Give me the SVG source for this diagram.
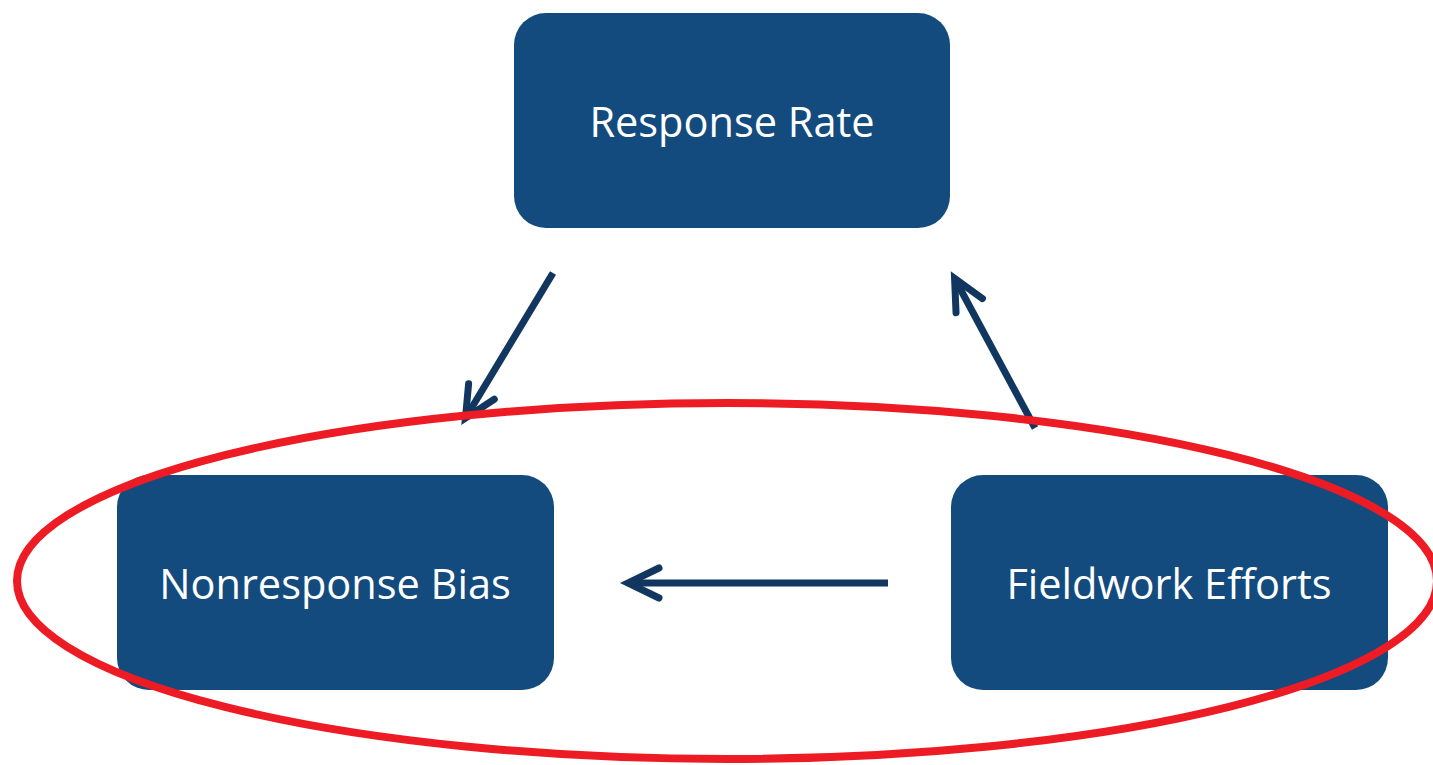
<svg xmlns="http://www.w3.org/2000/svg" width="1433" height="765" viewBox="0 0 1433 765">
<style>
.box{fill:#134B7E}
.lbl{fill:#FFFFFF;font-family:"Open Sans","Noto Sans",sans-serif;font-size:41.5px;text-anchor:middle}
.conn{stroke:#11365F;stroke-width:7;fill:none}
</style>
<defs>
<marker id="chev" markerUnits="userSpaceOnUse" viewBox="-40 -22 46 44" refX="-3" refY="0" markerWidth="46" markerHeight="44" orient="auto" overflow="visible">
<path d="M -31 -15 L 0 0 L -31 15" fill="none" stroke="#11365F" stroke-width="7" stroke-linecap="round" stroke-linejoin="miter"/>
</marker>
</defs>
<rect width="1433" height="765" fill="#FFFFFF"/>
<g id="node-response-rate">
<rect class="box" x="514" y="13" width="436" height="215" rx="32"/>
<text class="lbl" x="732" y="137">Response Rate</text>
</g>
<g id="node-nonresponse-bias">
<rect class="box" x="117" y="475" width="437" height="215" rx="32"/>
<text class="lbl" x="335" y="599">Nonresponse Bias</text>
</g>
<g id="node-fieldwork-efforts">
<rect class="box" x="951" y="475" width="437" height="215" rx="32"/>
<text class="lbl" x="1169" y="599">Fieldwork Efforts</text>
</g>
<g id="connectors">
<line class="conn" x1="553" y1="273" x2="467" y2="415.5" marker-end="url(#chev)"/>
<line class="conn" x1="1035" y1="428" x2="956" y2="281" marker-end="url(#chev)"/>
<line class="conn" x1="888" y1="583" x2="631" y2="583" marker-end="url(#chev)"/>
</g>
<ellipse id="highlight" cx="727" cy="581" rx="710" ry="178" fill="none" stroke="#ED1C24" stroke-width="8"/>
</svg>
